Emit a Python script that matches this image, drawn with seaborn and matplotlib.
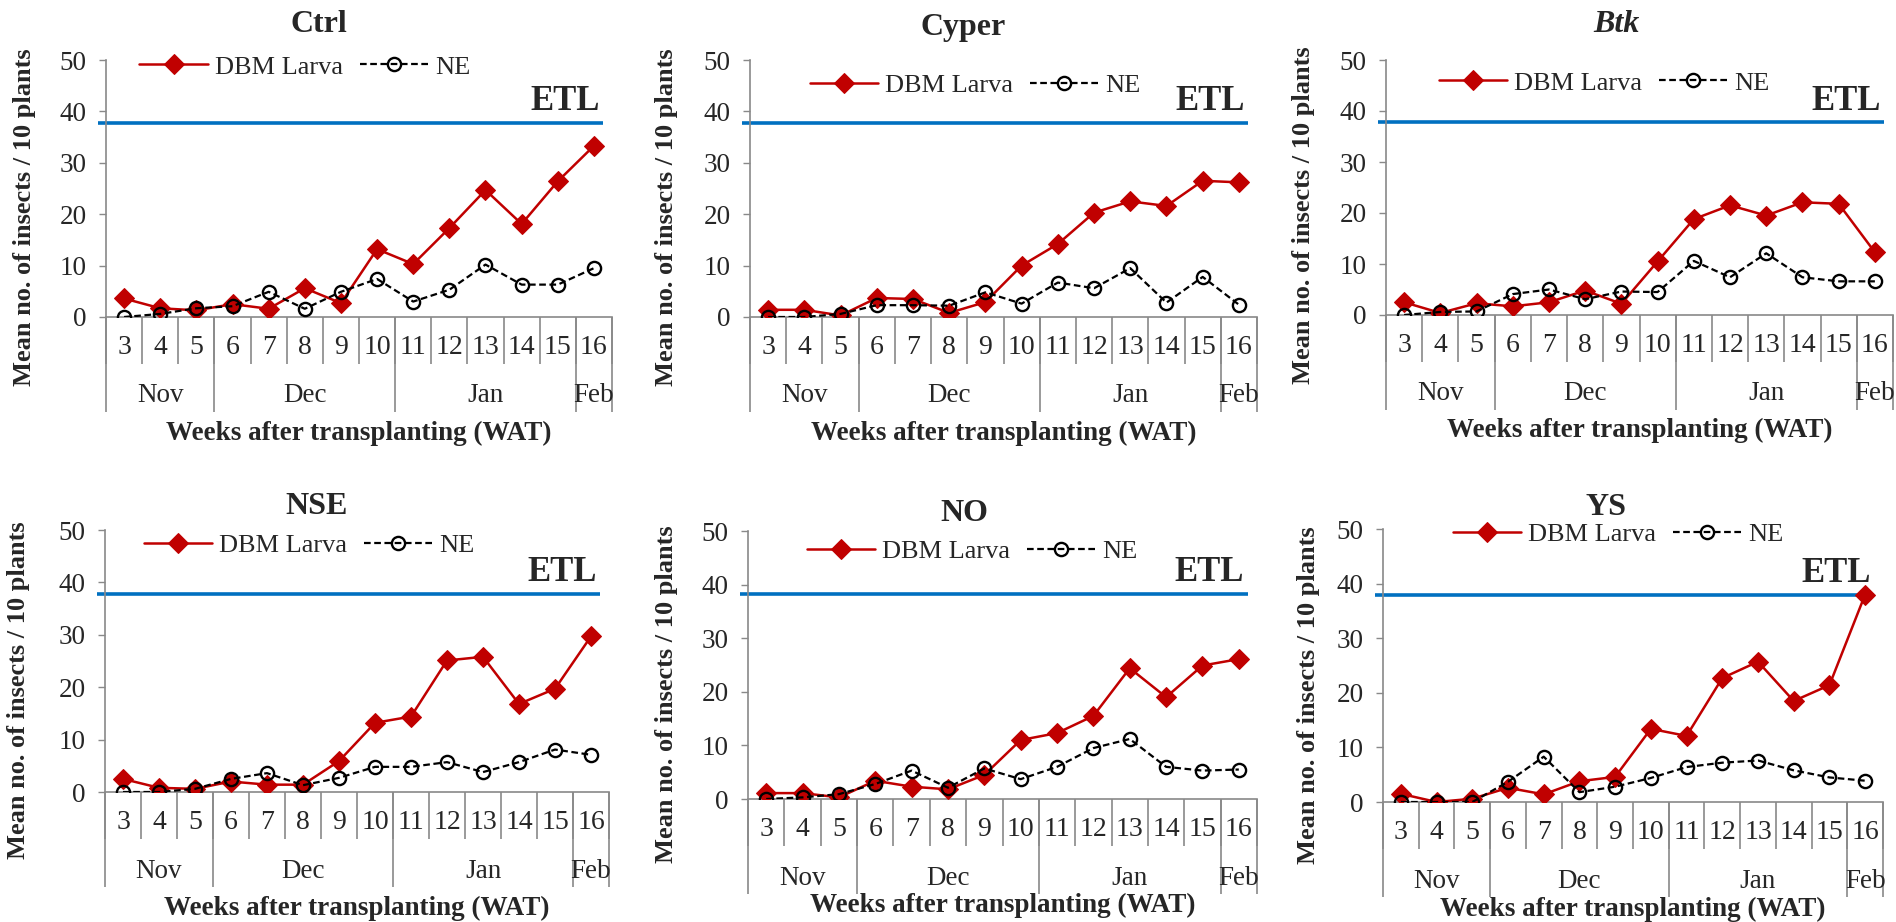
import matplotlib
matplotlib.use("Agg")
import matplotlib.pyplot as plt
import pandas as pd
import seaborn as sns

sns.set_style("white")
plt.rcParams["font.family"] = ["Liberation Serif", "DejaVu Serif"]

# data
weeks = [3, 4, 5, 6, 7, 8, 9, 10, 11, 12, 13, 14, 15, 16]
month_names = ["Nov", "Dec", "Jan", "Feb"]
month_lengths = [3, 5, 5, 1]

treatments = ["Ctrl", "Cyper", "Btk", "NSE", "NO", "YS"]
etl_levels = [37.8, 37.8, 37.8, 37.8, 38.2, 38.0]

dbm_ctrl = [3.6, 1.7, 1.3, 2.5, 1.6, 5.6, 2.7, 13.2, 10.3, 17.3, 24.7, 18.1, 26.4, 33.3]
ne_ctrl = [0.0, 0.6, 1.7, 2.1, 4.9, 1.6, 4.9, 7.4, 3.0, 5.3, 10.2, 6.3, 6.3, 9.5]

dbm_cyper = [1.4, 1.4, 0.3, 3.7, 3.5, 0.8, 2.9, 10.0, 14.2, 20.3, 22.5, 21.6, 26.5, 26.2]
ne_cyper = [0.0, 0.0, 0.6, 2.3, 2.3, 2.2, 4.8, 2.6, 6.7, 5.6, 9.5, 2.8, 7.8, 2.4]

dbm_btk = [2.5, 0.4, 2.3, 1.7, 2.5, 4.8, 2.2, 10.5, 18.8, 21.5, 19.5, 22.1, 21.8, 12.3]
ne_btk = [0.0, 0.6, 0.7, 4.1, 5.0, 3.1, 4.6, 4.5, 10.6, 7.4, 12.1, 7.4, 6.6, 6.6]

dbm_nse = [2.5, 0.8, 0.6, 2.0, 1.4, 1.4, 5.9, 13.2, 14.4, 25.1, 25.8, 16.8, 19.7, 29.7]
ne_nse = [0.0, 0.0, 0.6, 2.5, 3.6, 1.3, 2.7, 4.8, 4.8, 5.7, 3.8, 5.7, 8.1, 7.1]

dbm_no = [1.1, 1.1, 0.3, 3.4, 2.3, 1.8, 4.5, 11.0, 12.3, 15.5, 24.4, 19.0, 24.9, 26.1]
ne_no = [0.0, 0.3, 0.9, 2.8, 5.3, 2.1, 5.7, 3.7, 6.0, 9.5, 11.2, 6.0, 5.3, 5.5]

dbm_ys = [1.5, 0.0, 0.6, 2.6, 1.4, 3.8, 4.6, 13.4, 12.1, 22.7, 25.7, 18.5, 21.4, 38.0]
ne_ys = [0.0, 0.0, 0.0, 3.7, 8.3, 1.8, 2.8, 4.4, 6.4, 7.2, 7.6, 5.8, 4.5, 3.9]

dbm_all = [dbm_ctrl, dbm_cyper, dbm_btk, dbm_nse, dbm_no, dbm_ys]
ne_all = [ne_ctrl, ne_cyper, ne_btk, ne_nse, ne_no, ne_ys]

RED = "#C00000"
BLUE = "#0070C0"
GRAY = "#898989"

W, H = 1896, 922
# panel boxes in pixels: left, right, top, bottom
boxes = [
    (106, 612, 60, 317), (750, 1257, 60, 317), (1386, 1893, 60, 315),
    (105, 609, 530, 792), (748, 1257, 531, 799), (1383, 1883, 529, 802),
]
legend_xy = [(0.393, 0.973), (0.444, 0.90), (0.43, 0.91), (0.405, 0.94), (0.44, 0.923), (0.47, 0.98)]
title_xy = [(0.42, 35), (0.42, 33), (0.455, 35), (0.42, 23), (0.425, 18), (0.445, 22)]
ylabel_x = [-0.162, -0.164, -0.163, -0.172, -0.161, -0.149]
xlabel_dy = [116, 116, 115, 116, 106, 107]

fig = plt.figure(figsize=(W / 100, H / 100), dpi=100)

for i, name in enumerate(treatments):
    left, right, top, bottom = boxes[i]
    h_px = bottom - top
    ax = fig.add_axes([left / W, 1 - bottom / H, (right - left) / W, h_px / H])

    df = pd.DataFrame({"week": weeks, "dbm": dbm_all[i], "ne": ne_all[i]})
    sns.lineplot(data=df, x="week", y="dbm", ax=ax, color=RED, lw=1.8, marker="D",
                 markersize=10, markeredgecolor=RED, markerfacecolor=RED, label="DBM Larva", zorder=3)
    sns.lineplot(data=df, x="week", y="ne", ax=ax, color="black", lw=1.6, marker="o",
                 markersize=9.5, markeredgecolor="black", markerfacecolor="none", markeredgewidth=1.7,
                 dashes=(3, 1.6), label="NE", zorder=4)

    ax.hlines(etl_levels[i], weeks[0] - 0.72, weeks[-1] + 0.25, color=BLUE, lw=2.6, clip_on=False, zorder=2)
    ax.text(weeks[-1] + 0.15, etl_levels[i] + 0.9, "ETL", ha="right", va="bottom",
            fontsize=25, fontweight="bold")

    ax.set_xlim(weeks[0] - 0.5, weeks[-1] + 0.5)
    ax.set_ylim(0, 50)
    ax.set_yticks(range(0, 51, 10))
    ax.tick_params(axis="y", labelsize=19.5, length=5, width=1, color=GRAY, direction="out", left=True, pad=9)
    ax.set_xticks(weeks)
    ax.set_xticklabels([str(w) for w in weeks])
    ax.tick_params(axis="x", labelsize=20, length=0, pad=13)
    for side in ["top", "right"]:
        ax.spines[side].set_visible(False)
    for side in ["left", "bottom"]:
        ax.spines[side].set_color(GRAY)
        ax.spines[side].set_linewidth(1.2)

    # category separators below the axis
    trans = ax.get_xaxis_transform()
    week_edges = [w - 0.5 for w in weeks] + [weeks[-1] + 0.5]
    ax.vlines(week_edges, -47 / h_px, 0, transform=trans, color=GRAY, lw=1.2, clip_on=False)
    start = weeks[0] - 0.5
    month_edges = [start]
    for m, n in zip(month_names, month_lengths):
        end = start + n
        ax.text((start + end) / 2, -79 / h_px, m, transform=trans, ha="center", va="center", fontsize=19.5)
        month_edges.append(end)
        start = end
    ax.vlines(month_edges, -95 / h_px, 0, transform=trans, color=GRAY, lw=1.2, clip_on=False)

    ax.set_xlabel("Weeks after transplanting (WAT)", fontsize=19.5, fontweight="bold", va="center")
    ax.xaxis.set_label_coords(0.5, -xlabel_dy[i] / h_px)
    ax.set_ylabel("Mean no. of insects / 10 plants", fontsize=19, fontweight="bold", va="center")
    ax.yaxis.set_label_coords(ylabel_x[i], 0.39)

    tx, tdy = title_xy[i]
    ax.text(tx, 1 + tdy / h_px, name, transform=ax.transAxes, ha="center", va="center",
            fontsize=23, fontweight="bold", fontstyle="italic" if name == "Btk" else "normal")

    ax.legend(loc="center", bbox_to_anchor=legend_xy[i], ncol=2, frameon=False, fontsize=19,
              handlelength=2.6, handletextpad=0.25, columnspacing=0.65, borderpad=0)

fig.savefig("out.png", dpi=100)
